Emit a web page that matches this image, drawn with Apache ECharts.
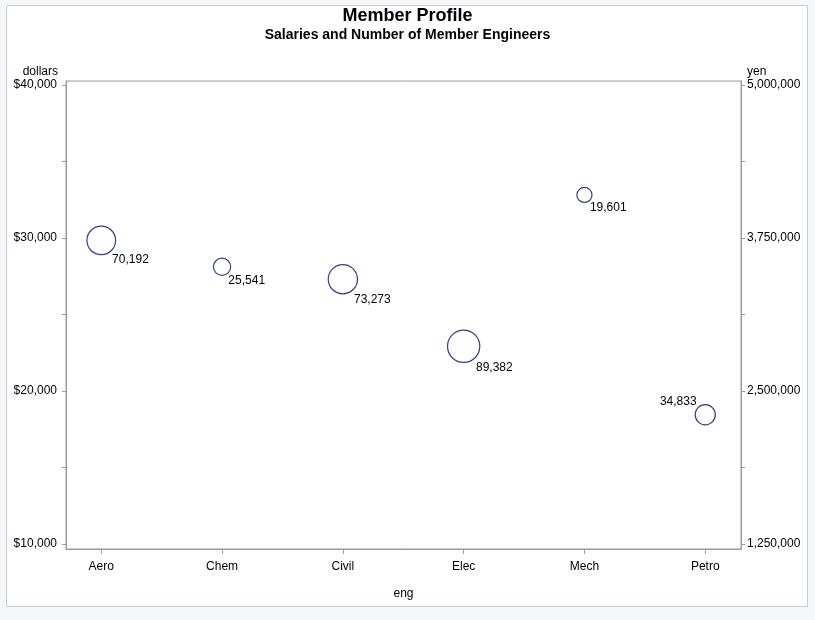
<!DOCTYPE html>
<html>
<head>
<meta charset="utf-8">
<script src="https://cdn.jsdelivr.net/npm/echarts@6/dist/echarts.min.js"></script>
<style>
html,body{margin:0;padding:0;background:#f6f7fb;}
#chart{width:815px;height:620px;}
</style>
</head>
<body>
<div id="chart"></div>
<script>
// ---- data ----
const categories = ['Aero', 'Chem', 'Civil', 'Elec', 'Mech', 'Petro'];
const dollars = [29844, 28116, 27308, 22920, 32816, 18444];
const engineers = [70192, 25541, 73273, 89382, 19601, 34833];
const leftTickLabels = [10000, 20000, 30000, 40000];
const leftTicks = [10000, 15000, 20000, 25000, 30000, 35000, 40000];
const rightTickLabels = [1250000, 2500000, 3750000, 5000000];
const rightTicks = [1250000, 1875000, 2500000, 3125000, 3750000, 4375000, 5000000];
const yenPerDollar = 125;

const FONT = "'Liberation Sans', Arial, Helvetica, sans-serif";
const chart = echarts.init(document.getElementById('chart'), null, {renderer: 'canvas'});

const yMin = 9673, yMax = 40261;
const fmt = v => Math.round(v).toLocaleString('en-US');
const bubbleSize = n => 0.108 * Math.sqrt(n);

const seriesData = categories.map((c, i) => {
  const d = bubbleSize(engineers[i]);
  const r = d / 2;
  const nearRight = i === categories.length - 1;
  return {
    value: [i, dollars[i], engineers[i]],
    label: nearRight
      ? {position: [r - 0.8 * r, r - r - 2.5], align: 'right', verticalAlign: 'middle'}
      : {position: [r + 0.8 * r, r + r + 6], align: 'left', verticalAlign: 'middle'}
  };
});

const option = {
  backgroundColor: '#f6f7fb',
  animation: false,
  graphic: [{
    type: 'rect', z: -10,
    shape: {x: 6.5, y: 5.5, width: 801, height: 601},
    style: {fill: '#ffffff', stroke: '#c6c9d8', lineWidth: 1}
  }],
  title: {
    text: 'Member Profile',
    subtext: 'Salaries and Number of Member Engineers',
    left: 'center', top: 1, itemGap: 1,
    textStyle: {fontFamily: FONT, fontSize: 18, fontWeight: 'bold', color: '#000', lineHeight: 20},
    subtextStyle: {fontFamily: FONT, fontSize: 14, fontWeight: 'bold', color: '#000', lineHeight: 16}
  },
  grid: {
    left: 66, top: 81, width: 675, height: 468,
    show: true, borderColor: '#9a9a9a', borderWidth: 1, backgroundColor: '#fff'
  },
  xAxis: {
    type: 'value', min: -0.292, max: 5.296,
    name: 'eng', nameLocation: 'middle', nameGap: 39,
    nameTextStyle: {fontFamily: FONT, fontSize: 12, color: '#000'},
    splitLine: {show: false},
    axisLine: {show: true, onZero: false, lineStyle: {color: '#9a9a9a'}},
    axisTick: {show: true, length: 5, customValues: categories.map((c, i) => i), lineStyle: {color: '#9a9a9a'}},
    axisLabel: {
      customValues: categories.map((c, i) => i), margin: 12,
      formatter: v => categories[Math.round(v)] || '',
      fontFamily: FONT, fontSize: 12, color: '#000'
    }
  },
  yAxis: [{
    type: 'value', min: yMin, max: yMax, position: 'left',
    name: 'dollars', nameLocation: 'end', nameGap: 3,
    nameTextStyle: {fontFamily: FONT, fontSize: 12, color: '#000', align: 'right', verticalAlign: 'bottom', padding: [0, 8, 0, 0]},
    splitLine: {show: false},
    axisLine: {show: true, onZero: false, lineStyle: {color: '#9a9a9a'}},
    axisTick: {show: true, length: 4, customValues: leftTicks, lineStyle: {color: '#9a9a9a'}},
    axisLabel: {
      customValues: leftTickLabels, margin: 9,
      formatter: v => '$' + fmt(v),
      fontFamily: FONT, fontSize: 12, color: '#000'
    }
  }, {
    type: 'value', min: yMin * yenPerDollar, max: yMax * yenPerDollar, position: 'right',
    name: 'yen', nameLocation: 'end', nameGap: 3,
    nameTextStyle: {fontFamily: FONT, fontSize: 12, color: '#000', align: 'left', verticalAlign: 'bottom', padding: [0, 0, 0, 6]},
    splitLine: {show: false},
    axisLine: {show: true, onZero: false, lineStyle: {color: '#9a9a9a'}},
    axisTick: {show: true, length: 4, customValues: rightTicks, lineStyle: {color: '#9a9a9a'}},
    axisLabel: {
      customValues: rightTickLabels, margin: 6,
      formatter: v => fmt(v),
      fontFamily: FONT, fontSize: 12, color: '#000'
    }
  }],
  series: [{
    type: 'scatter',
    xAxisIndex: 0, yAxisIndex: 0,
    symbol: 'circle',
    symbolSize: v => bubbleSize(v[2]),
    itemStyle: {color: 'rgba(0,0,0,0)', borderColor: '#2f3f8f', borderWidth: 1.2, opacity: 1},
    label: {
      show: true,
      formatter: p => fmt(p.value[2]),
      fontFamily: FONT, fontSize: 12, color: '#000'
    },
    emphasis: {disabled: true},
    data: seriesData
  }]
};
chart.setOption(option);
</script>
</body>
</html>
